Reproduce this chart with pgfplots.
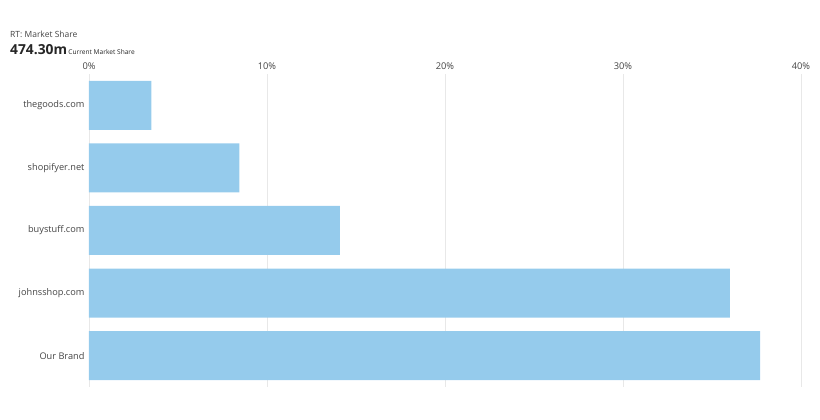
\documentclass[border=0pt]{standalone}
\usepackage{pgfplots}
\pgfplotsset{compat=1.18}
\usepackage{fontspec}
\setmainfont{Open Sans}
\definecolor{barblue}{HTML}{95CBEC}
\definecolor{gridgray}{HTML}{E8E8E8}
\definecolor{txt}{HTML}{444444}

\begin{document}
\begin{tikzpicture}
\begin{axis}[
  scale only axis, width=712pt, height=313pt,
  xbar, bar width=49pt,
  xmin=0, xmax=40, ymin=-0.5, ymax=4.5,
  xtick={0,10,20,30,40},
  xticklabel={\pgfmathprintnumber{\tick}\%},
  xticklabel pos=upper,
  ytick={0,1,2,3,4},
  yticklabels={Our Brand, johnsshop.com, buystuff.com, shopifyer.net, thegoods.com},
  axis line style={draw=none},
  major tick length=0pt,
  xmajorgrids,
  major grid style={gridgray, line width=0.9pt},
  /pgf/number format/assume math mode=true,
  xticklabel style={font=\fontsize{9.3}{10}\selectfont, text=txt, yshift=1pt},
  yticklabel style={font=\fontsize{9.2}{11}\selectfont, text=txt, xshift=-1pt},
]
\addplot[fill=barblue, draw=none] coordinates {
  (37.7,0) (36.0,1) (14.1,2) (8.45,3) (3.5,4)
};
\coordinate (o) at (rel axis cs:0,0);
\end{axis}
\pgfresetboundingbox
\path[use as bounding box] ([shift={(-89pt,-33pt)}]o) rectangle ([shift={(731pt,387pt)}]o);
% header
\node[anchor=base west, inner sep=0, text=txt, font=\fontsize{8.5}{10}\selectfont] at ([shift={(-79pt,349.5pt)}]o) {RT: Market Share};
\node[anchor=base west, inner sep=0, text=black!85, font=\fontsize{13.8}{16}\selectfont\bfseries] (big) at ([shift={(-79pt,332.5pt)}]o) {474.30m};
\node[anchor=base west, inner sep=0, text=black!85, font=\fontsize{6.6}{8}\selectfont] at ([xshift=1pt]big.base east) {Current Market Share};
\end{tikzpicture}
\end{document}
